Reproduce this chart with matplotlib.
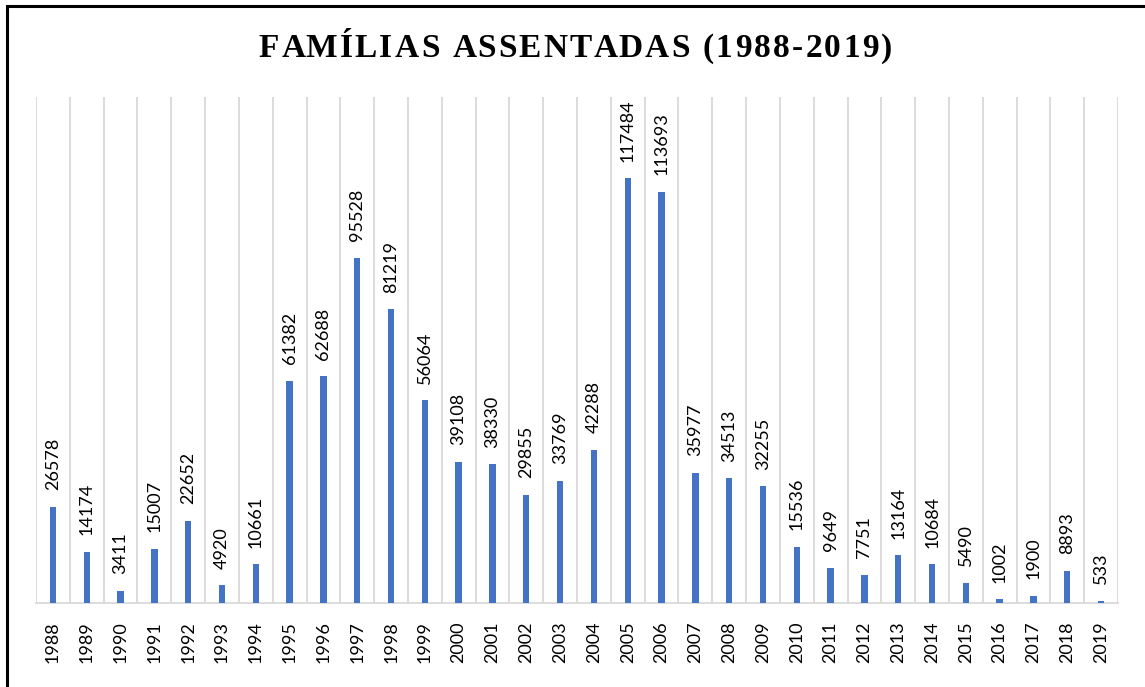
import matplotlib
matplotlib.use("Agg")
import matplotlib.pyplot as plt
from matplotlib.patches import Rectangle
from matplotlib.font_manager import FontProperties

years = [str(y) for y in range(1988, 2020)]
familias = [26578, 14174, 3411, 15007, 22652, 4920, 10661, 61382, 62688, 95528,
            81219, 56064, 39108, 38330, 29855, 33769, 42288, 117484, 113693, 35977,
            34513, 32255, 15536, 9649, 7751, 13164, 10684, 5490, 1002, 1900, 8893, 533]
title = "FAMÍLIAS ASSENTADAS (1988-2019)"

W, H = 1145, 687
fig = plt.figure(figsize=(W / 100, H / 100), dpi=100)
ax = fig.add_axes([36 / W, 1 - 603 / H, (1118 - 36) / W, (603 - 97) / H])

x = list(range(len(years)))
ax.bar(x, familias, width=0.19, color="#4472C4", zorder=3)
ax.set_xlim(-0.5, len(years) - 0.5)
ax.set_ylim(0, 140000)

for xi, v in zip(x, familias):
    ax.annotate(str(v), (xi, v), xytext=(0, 12), textcoords="offset points",
                rotation=90, ha="center", va="bottom", fontsize=13,
                family="Lato", color="#000000")

ax.set_xticks(x)
ax.set_xticklabels(years, rotation=90, fontsize=13, family="Lato")
ax.tick_params(axis="x", length=0, pad=13)
ax.set_xticks([i + 0.5 for i in range(-1, len(years))], minor=True)
ax.tick_params(axis="x", which="minor", length=0)
ax.grid(True, axis="x", which="minor", color="#D9D9D9", linewidth=1.3, zorder=0)
ax.grid(False, axis="x", which="major")
ax.set_yticks([])
for s in ["top", "right", "left"]:
    ax.spines[s].set_visible(False)
ax.spines["bottom"].set_color("#D9D9D9")
ax.spines["bottom"].set_linewidth(1.3)

# Title with letter spacing (drawn character by character)
fp = FontProperties(family="Liberation Serif", weight="bold", size=24)
renderer = fig.canvas.get_renderer()


def tw(s):
    if not s:
        return 0.0
    w1, _, _ = renderer.get_text_width_height_descent(s + "X", fp, ismath=False)
    w2, _, _ = renderer.get_text_width_height_descent("X", fp, ismath=False)
    return w1 - w2


spacing = 2.3
total = tw(title) + spacing * (len(title) - 1)
x0 = 575.5 - total / 2
for i, ch in enumerate(title):
    if ch == " ":
        continue
    px = x0 + tw(title[:i]) + spacing * i
    fig.text(px / W, 1 - 57 / H, ch, ha="left", va="baseline", fontproperties=fp)

fig.patches.append(Rectangle((7 / W, -0.1), 1.2, 1 - 6 / H + 0.1, transform=fig.transFigure,
                             fill=False, edgecolor="black", linewidth=2.2))

fig.savefig("out.png", dpi=100)
